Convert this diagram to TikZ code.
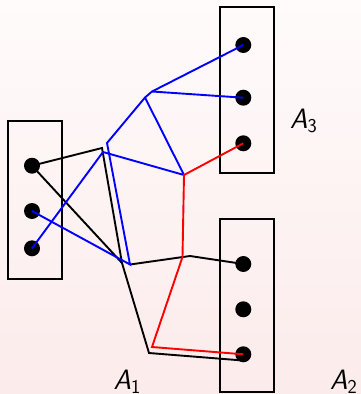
\documentclass[tikz,border=0pt]{standalone}
\usetikzlibrary{calc}
\definecolor{bgtop}{RGB}{255,251,251}
\definecolor{bgbot}{RGB}{252,235,235}
\begin{document}
\begin{tikzpicture}[x=1pt,y=-1pt,
  dot/.style={circle,fill=black,inner sep=0pt,minimum size=16pt},
  boxst/.style={draw=black,line width=2pt,inner sep=0pt},
  edge/.style={line width=1.9pt,line join=miter},
  lbl/.style={font=\fontsize{28}{30}\selectfont\sffamily\itshape,inner sep=0pt,anchor=base west}]
\shade[top color=bgtop,bottom color=bgbot] (0,0) rectangle (361,394);
\useasboundingbox (0,0) rectangle (361,394);
% boxes
\node[boxst,minimum width=53.7pt,minimum height=158.3pt] (B1) at (35.15,199.85) {};
\node[boxst,minimum width=53.7pt,minimum height=166.6pt] (B3) at (247.15,90) {};
\node[boxst,minimum width=53.7pt,minimum height=173.3pt] (B2) at (247.15,305.35) {};
% dots
\node[dot] (L1) at (32,165.7) {};
\node[dot] (L2) at (32,211) {};
\node[dot] (L3) at (32,248.3) {};
\node[dot] (T1) at (243.3,45) {};
\node[dot] (T2) at (243.3,97.7) {};
\node[dot] (T3) at (243.3,143.3) {};
\node[dot] (S1) at (243.3,264) {};
\node[dot] (S2) at (243.3,309.3) {};
\node[dot] (S3) at (243.3,354.3) {};
% junctions
\coordinate (b1) at (102,148);
\coordinate (b2) at (122,263);
\coordinate (b3) at (149,353);
\coordinate (b4) at (190,256);
\coordinate (c1) at (103,152);
\coordinate (c2) at (130,264.5);
\coordinate (c3) at (107,143);
\coordinate (c4) at (145,97.5);
\coordinate (c5) at (152,91.5);
\coordinate (r1) at (184,175);
\coordinate (r2) at (182.5,257);
\coordinate (r3) at (152,347);
\coordinate (s3e) at ($(S3)+(-3,6)$);
% black
\draw[edge] (L1.center) -- (b1) -- (b2) -- (b3) -- (s3e);
\draw[edge] (L1.center) -- (b2);
\draw[edge] (c2) -- (b4) -- (S1.center);
% blue
\draw[edge,blue] (L3.center) -- (c1) -- (r1);
\draw[edge,blue] (L2.center) -- (c2) -- (c3) -- (c4) -- (c5) -- (T1.center);
\draw[edge,blue] (c5) -- (T2.center);
\draw[edge,blue] (c4) -- (r1);
% red
\draw[edge,red] (T3.center) -- (r1) -- (r2) -- (r3) -- (S3.center);
% labels
\node[lbl] (A3) at (290,128.3) {A\textsubscript{\upshape 3}};
\node[lbl] (A1) at (113.3,389.3) {A\textsubscript{\upshape 1}};
\node[lbl] (A2) at (330,389.3) {A\textsubscript{\upshape 2}};
\end{tikzpicture}
\end{document}
